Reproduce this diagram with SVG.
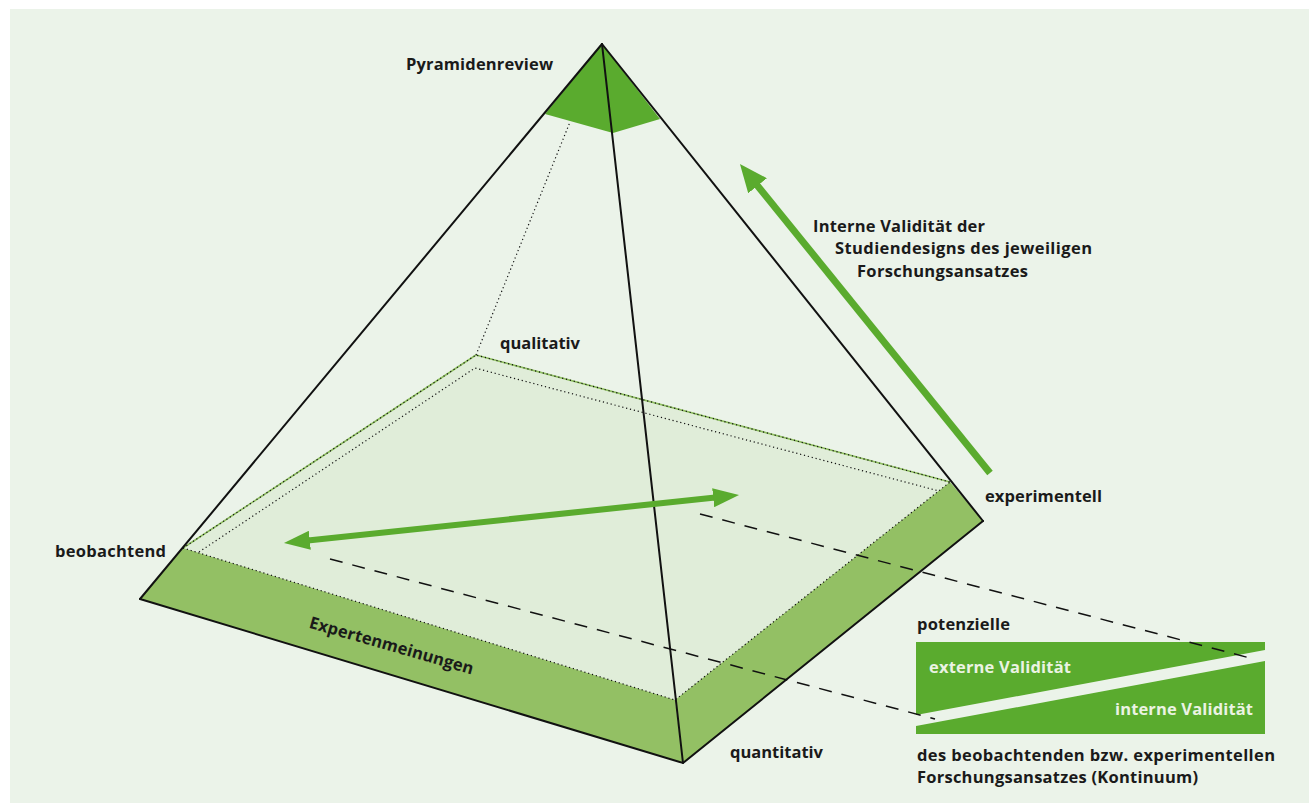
<svg xmlns="http://www.w3.org/2000/svg" width="1309" height="803" viewBox="0 0 1309 803">
<style>
.t{font-family:"Open Sans","Liberation Sans",Arial,sans-serif;font-weight:700;font-size:16.5px;fill:#1a1a1a}
.w{fill:#ebf3e3}
.edge{stroke:#111;stroke-width:2;fill:none;stroke-linecap:round}
.dot{stroke:#111;stroke-width:1.2;fill:none;stroke-dasharray:1.2 2.8}
.gl{stroke:#8fc060;stroke-width:1.6;fill:none}
.dash{stroke:#111;stroke-width:1.5;fill:none;stroke-dasharray:13 10}
.arr{stroke:#5aab2e;fill:none}
</style>
<defs>
<marker id="ah" markerUnits="userSpaceOnUse" markerWidth="26" markerHeight="19" refX="14" refY="9.5" orient="auto-start-reverse" viewBox="0 0 26 19">
<path d="M0,0 L26,9.5 L0,19 z" fill="#5aab2e"/>
</marker>
<marker id="ah2" markerUnits="userSpaceOnUse" markerWidth="28" markerHeight="24" refX="16" refY="12" orient="auto" viewBox="0 0 28 24">
<path d="M0,0 L28,12 L0,24 z" fill="#5aab2e"/>
</marker>
</defs>
<rect x="10" y="9" width="1299" height="794" fill="#ebf3e9"/>
<g id="pyramid">
<polygon points="183,548 476,355 950,482 675,700" fill="#e0edd9"/>
<polygon points="140,599 183,548 675,700 683,763" fill="#93c064"/>
<polygon points="683,763 675,700 950,482 983,521" fill="#93c064"/>
<polygon points="545,114 602,44 660,119 613,133" fill="#5aab2e"/>
<line class="gl" x1="183" y1="548" x2="476" y2="355"/>
<line class="gl" x1="476" y1="355" x2="950" y2="482"/>
<polyline class="dot" points="183,548 476,355 950,482"/>
<polyline class="dot" points="183,548 675,700 950,482"/>
<polyline class="dot" points="199,552 475,368 939,491"/>
<line class="dot" x1="476" y1="355" x2="570" y2="122"/>
<line class="edge" x1="602" y1="44" x2="140" y2="599"/>
<line class="edge" x1="602" y1="44" x2="983" y2="521"/>
<line class="edge" x1="602" y1="44" x2="683" y2="763"/>
<polyline class="edge" points="140,599 683,763 983,521"/>
</g>
<g id="box">
<rect x="916" y="642" width="349" height="92" fill="#5aab2e"/>
<polygon points="916,715 1265,650 1265,661 916,726" fill="#ebf3e9"/>
<text class="t w" x="929" y="673" textLength="142">externe Validität</text>
<text class="t w" x="1115" y="715" textLength="138">interne Validität</text>
</g>
<g id="connectors">
<line class="dash" x1="700" y1="514" x2="1250" y2="658"/>
<line class="dash" x1="330" y1="559" x2="935" y2="719"/>
<line class="arr" stroke-width="6" x1="295.9" y1="541.7" x2="727.1" y2="496.3" marker-start="url(#ah)" marker-end="url(#ah)"/>
<line class="arr" stroke-width="7" x1="990" y1="473" x2="747.5" y2="173.3" marker-end="url(#ah2)"/>
</g>
<g id="labels">
<text class="t" x="406" y="70" textLength="147">Pyramidenreview</text>
<text class="t" x="500" y="349" textLength="80">qualitativ</text>
<text class="t" x="813" y="232" textLength="172">Interne Validität der</text>
<text class="t" x="835" y="254" textLength="257">Studiendesigns des jeweiligen</text>
<text class="t" x="857" y="277" textLength="171">Forschungsansatzes</text>
<text class="t" x="985" y="502" textLength="117">experimentell</text>
<text class="t" x="55" y="557" textLength="111">beobachtend</text>
<text class="t" x="730" y="758" textLength="93">quantitativ</text>
<text class="t" x="917" y="630" textLength="93">potenzielle</text>
<text class="t" x="917" y="761" textLength="358">des beobachtenden bzw. experimentellen</text>
<text class="t" x="917" y="783" textLength="281">Forschungsansatzes (Kontinuum)</text>
<text class="t" x="390" y="651" text-anchor="middle" textLength="170" transform="rotate(16 390 651)">Expertenmeinungen</text>
</g>
</svg>
